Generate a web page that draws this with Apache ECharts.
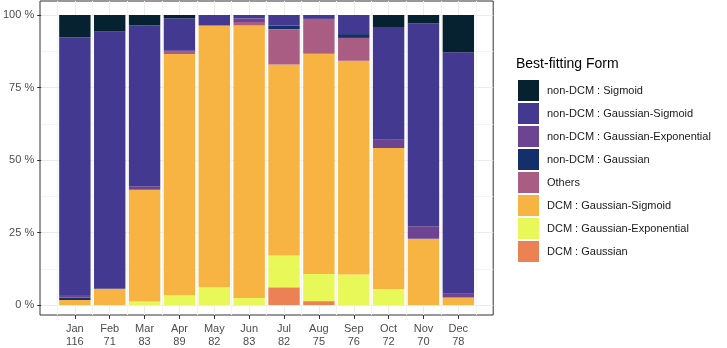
<!DOCTYPE html>
<html>
<head>
<meta charset="utf-8">
<script src="https://cdn.jsdelivr.net/npm/echarts@6/dist/echarts.min.js"></script>
<style>
  html, body { margin: 0; padding: 0; background: #fff; }
  #chart { width: 727px; height: 348px; }
</style>
</head>
<body>
<div id="chart"></div>
<script>
// months and number of profiles per month
var months = ['Jan', 'Feb', 'Mar', 'Apr', 'May', 'Jun', 'Jul', 'Aug', 'Sep', 'Oct', 'Nov', 'Dec'];
var totals = [116, 71, 83, 89, 82, 83, 82, 75, 76, 72, 70, 78];
var yTicks = [0, 25, 50, 75, 100];

// counts per form, stacked from bottom to top
var dcmGaussian       = [0, 0, 0, 0, 0, 0, 5, 1, 0, 0, 0, 0];
var dcmGaussExp       = [0, 0, 1, 3, 5, 2, 9, 7, 8, 4, 0, 0];
var dcmGaussSig       = [2, 4, 32, 74, 74, 78, 54, 57, 56, 35, 16, 2];
var others            = [0, 0, 0, 1, 0, 1, 10, 9, 6, 0, 0, 0];
var nonDcmGaussian    = [1, 0, 0, 0, 0, 0, 1, 0, 1, 0, 0, 0];
var nonDcmGaussExp    = [1, 0, 1, 0, 0, 1, 0, 0, 0, 2, 3, 1];
var nonDcmGaussSig    = [103, 63, 46, 10, 3, 1, 3, 1, 5, 28, 49, 65];
var nonDcmSigmoid     = [9, 4, 3, 1, 0, 0, 0, 0, 0, 3, 2, 10];

var forms = [
    {name: 'DCM : Gaussian',                  data: dcmGaussian,    color: '#EC8254'},
    {name: 'DCM : Gaussian-Exponential',      data: dcmGaussExp,    color: '#E8F858'},
    {name: 'DCM : Gaussian-Sigmoid',          data: dcmGaussSig,    color: '#F8B442'},
    {name: 'Others',                          data: others,         color: '#A95D82'},
    {name: 'non-DCM : Gaussian',              data: nonDcmGaussian, color: '#13306A'},
    {name: 'non-DCM : Gaussian-Exponential',  data: nonDcmGaussExp, color: '#6C4492'},
    {name: 'non-DCM : Gaussian-Sigmoid',      data: nonDcmGaussSig, color: '#433990'},
    {name: 'non-DCM : Sigmoid',               data: nonDcmSigmoid,  color: '#062230'}
];

var font = "'Liberation Sans', Arial, sans-serif";
var monthIdx = months.map(function (m, i) { return i + 1; });

var series = forms.map(function (f) {
    return {
        name: f.name,
        type: 'bar',
        stack: 'all',
        xAxisIndex: 2,
        yAxisIndex: 2,
        barWidth: 31.4,
        itemStyle: {color: f.color},
        data: f.data.map(function (v, i) {
            return v / totals[i] * 100;//share of the month
        })
    };
});

var myChart = echarts.init(document.getElementById('chart'), null, {renderer: 'canvas'});
var option = {
    animation: false,
    textStyle: {fontFamily: font},
    title: {
        text: 'Best-fitting Form',
        left: 516,
        top: 57,
        padding: 0,
        textStyle: {fontFamily: font, fontSize: 14, fontWeight: 'normal', color: '#000'}
    },
    legend: {
        orient: 'vertical',
        left: 518,
        top: 80,
        padding: 0,
        itemWidth: 21,
        itemHeight: 21,
        itemGap: 2,
        icon: 'rect',
        selectedMode: false,
        data: forms.map(function (f) { return f.name; }).reverse(),
        textStyle: {fontFamily: font, fontSize: 11, color: '#1A1A1A', padding: [0, 0, 0, 3]}
    },
    grid: [
        {left: 40, width: 453.2, top: 15, bottom: 43},//horizontal grid lines + y axis
        {left: 40, width: 453.2, top: 1, bottom: 29, show: true, borderColor: '#333', borderWidth: 1},//panel
        {left: 57.43, width: 418.34, top: 15, bottom: 43}//bars
    ],
    xAxis: [
        {
            type: 'value', gridIndex: 0, min: 0, max: 13, interval: 1, show: false,
            splitLine: {show: false}
        },
        {
            type: 'value', gridIndex: 1, min: 0, max: 13, interval: 1,
            axisLine: {show: false},
            axisTick: {show: true, length: 4, customValues: monthIdx, lineStyle: {color: '#333'}},
            axisLabel: {
                customValues: monthIdx,
                margin: 7,
                fontSize: 11,
                lineHeight: 13,
                color: '#4D4D4D',
                formatter: function (v) {
                    return months[v - 1] + '\n' + totals[v - 1];
                }
            },
            splitLine: {show: true, lineStyle: {color: '#EBEBEB', width: 1}},
            minorTick: {show: false, splitNumber: 2},
            minorSplitLine: {show: true, lineStyle: {color: '#F4F4F4', width: 1}}
        },
        {
            type: 'category', gridIndex: 2, data: months, show: false
        }
    ],
    yAxis: [
        {
            type: 'value', gridIndex: 0, min: 0, max: 100, interval: 25,
            axisLine: {show: false},
            axisTick: {show: true, length: 4, lineStyle: {color: '#333'}},
            axisLabel: {
                margin: 7, fontSize: 11, color: '#4D4D4D',
                formatter: '{value} %'
            },
            splitLine: {show: true, lineStyle: {color: '#EBEBEB', width: 1}},
            minorTick: {show: false, splitNumber: 2},
            minorSplitLine: {show: true, lineStyle: {color: '#F4F4F4', width: 1}}
        },
        {
            type: 'value', gridIndex: 1, min: 0, max: 1, show: false,
            splitLine: {show: false}
        },
        {
            type: 'value', gridIndex: 2, min: 0, max: 100, show: false,
            splitLine: {show: false}
        }
    ],
    series: series
};
window.onresize = myChart.resize;
myChart.setOption(option);
</script>
</body>
</html>
